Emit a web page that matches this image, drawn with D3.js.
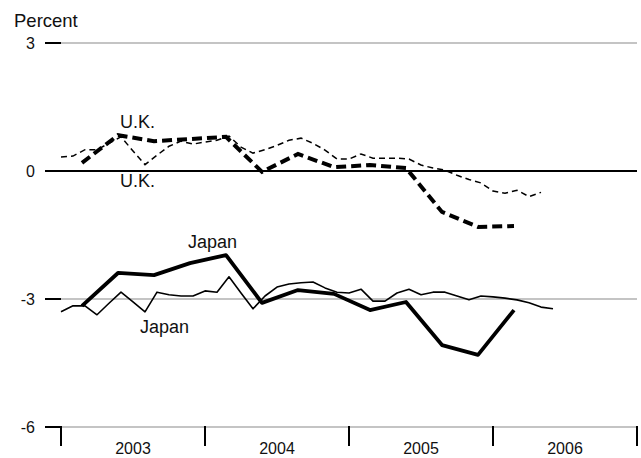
<!DOCTYPE html>
<html><head><meta charset="utf-8">
<script src="https://cdn.jsdelivr.net/npm/d3@7"></script>
<style>body{margin:0;background:#fff}svg{display:block}text{font-family:"Liberation Sans",Arial,sans-serif;fill:#111}</style>
</head><body><svg id="c" width="641" height="458"></svg>
<script>
// Monthly series starting Jan 2003
const ukMonthly = [0.33,0.35,0.5,0.5,0.65,0.8,0.47,0.15,0.37,0.58,0.7,0.63,0.68,0.72,0.82,0.56,0.42,0.5,0.6,0.72,0.77,0.65,0.49,0.28,0.28,0.4,0.3,0.3,0.3,0.28,0.14,0.07,0.02,-0.1,-0.2,-0.28,-0.47,-0.52,-0.45,-0.6,-0.5];
const japanMonthly = [-3.3,-3.16,-3.16,-3.37,-3.1,-2.84,-3.07,-3.3,-2.84,-2.9,-2.93,-2.93,-2.81,-2.84,-2.48,-2.86,-3.23,-2.93,-2.72,-2.65,-2.62,-2.6,-2.74,-2.84,-2.86,-2.77,-3.05,-3.05,-2.86,-2.77,-2.9,-2.84,-2.84,-2.93,-3.02,-2.93,-2.95,-2.98,-3.02,-3.09,-3.19,-3.23];
// Quarterly series starting 2003 Q1
const ukQuarterly = [0.19,0.84,0.7,0.75,0.8,-0.02,0.4,0.09,0.14,0.07,-0.96,-1.31,-1.29];
const japanQuarterly = [-3.16,-2.39,-2.44,-2.16,-1.97,-3.09,-2.79,-2.88,-3.26,-3.07,-4.08,-4.31,-3.26];
const years = ["2003","2004","2005","2006"];
const yTicks = [3,0,-3,-6];

const svg = d3.select("#c");
const x = d3.scaleLinear().domain([0,48]).range([61,637]);
const y = d3.scaleLinear().domain([-6,3]).range([427,43]);
const qMonth = i => i*3 + 1.75;

// gridlines
yTicks.forEach(t=>{
  svg.append("line").attr("x1",t===0?60:61).attr("x2",637).attr("y1",y(t)).attr("y2",y(t))
    .attr("stroke",t===0?"#000":"#c4c4c4").attr("stroke-width",2);
  svg.append("line").attr("x1",45).attr("x2",61).attr("y1",y(t)).attr("y2",y(t))
    .attr("stroke","#000").attr("stroke-width",2);
  svg.append("text").attr("x",35).attr("y",y(t)).attr("dy","0.36em").attr("text-anchor","end")
    .attr("font-size",16).text(t);
});
// x ticks
d3.range(0,49,12).forEach(m=>{
  svg.append("line").attr("x1",x(m)).attr("x2",x(m)).attr("y1",y(-6)-1).attr("y2",446)
    .attr("stroke","#000").attr("stroke-width",2);
});
years.forEach((yr,i)=>{
  svg.append("text").attr("x",x(i*12+6)).attr("y",454).attr("text-anchor","middle")
    .attr("font-size",16).text(yr);
});
svg.append("text").attr("x",14).attr("y",27).attr("font-size",18.5).text("Percent");

const lineM = d3.line().x((d,i)=>x(i)).y(d=>y(d));
const lineQ = d3.line().x((d,i)=>x(qMonth(i))).y(d=>y(d));

svg.append("path").attr("d",lineM(ukMonthly)).attr("fill","none").attr("stroke","#000")
  .attr("stroke-width",1.5).attr("stroke-dasharray","6,4");
svg.append("path").attr("d",lineQ(ukQuarterly)).attr("fill","none").attr("stroke","#000")
  .attr("stroke-width",4).attr("stroke-dasharray","10,5");
svg.append("path").attr("d",lineM(japanMonthly)).attr("fill","none").attr("stroke","#000")
  .attr("stroke-width",1.6).attr("stroke-linejoin","round");
svg.append("path").attr("d",lineQ(japanQuarterly)).attr("fill","none").attr("stroke","#000")
  .attr("stroke-width",3.8).attr("stroke-linejoin","round");

const labels = [["U.K.",120,128],["U.K.",120,187],["Japan",188,248],["Japan",140,333]];
labels.forEach(l=>svg.append("text").attr("x",l[1]).attr("y",l[2]).attr("font-size",18).text(l[0]));
</script></body></html>
